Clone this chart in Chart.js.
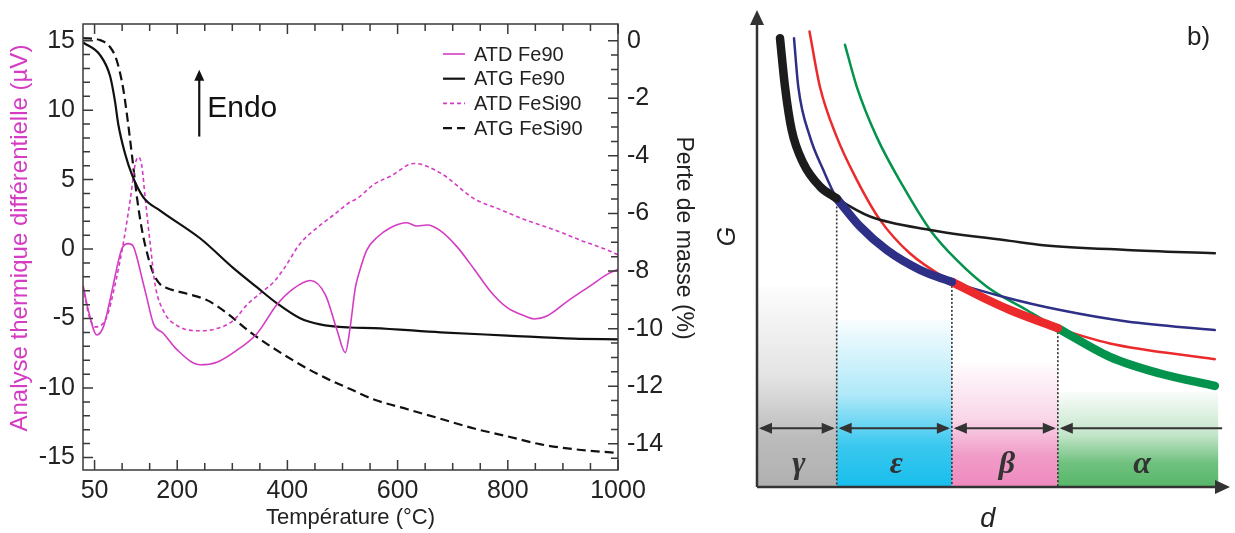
<!DOCTYPE html>
<html lang="fr">
<head>
<meta charset="utf-8">
<title>ATD / ATG et stabilité des phases</title>
<script src="https://cdn.jsdelivr.net/npm/chart.js@4.4.1/dist/chart.umd.min.js"></script>
<style>
  body { margin: 0; background: #fff; }
  #wrap { position: relative; width: 1235px; height: 533px; overflow: hidden; }
  canvas { position: absolute; top: 0; }
  #atd { left: 0; }
  #phases { left: 700px; }
</style>
</head>
<body>
<div id="wrap">
  <canvas id="atd" width="705" height="533"></canvas>
  <canvas id="phases" width="535" height="533"></canvas>
</div>
<script>
// --- LEFT PANEL DATA: ATD (µV, left axis) and ATG (% mass loss, right axis) vs temperature (°C) ---
const atdFe90T = [29, 39, 54, 66, 75, 84, 93, 100, 111, 120, 127, 133, 145, 157, 175, 199, 242, 272, 302, 345,
  381, 411, 442, 469, 490, 505, 514, 523, 532, 544, 563, 587, 617, 635, 654, 678, 708, 739, 769, 799,
  830, 848, 872, 908, 951, 981, 1000];
const atdFe90 = [-2.6, -4.45, -6.18, -5.6, -4.22, -2.56, -0.9, 0.07, 0.39, 0.21, -0.62, -1.59, -3.53, -5.38, -6.07, -7.22, -8.33, -8.14, -7.45, -6.07,
  -3.99, -2.84, -2.26, -3.3, -5.83, -7.45, -5.6, -2.84, -1.45, -0.07, 0.85, 1.54, 1.89, 1.66, 1.73, 1.31, 0.16, -1.45, -3.07, -4.22,
  -4.8, -5.03, -4.8, -3.76, -2.61, -1.8, -1.45];

const atgFe90T = [29, 60, 78, 87, 93, 105, 118, 139, 169, 242, 302, 345, 381, 423, 459, 514, 556, 678, 799, 920, 1000];
const atgFe90 = [-0.06, -0.5, -1.22, -2.1, -2.9, -3.9, -4.66, -5.45, -5.9, -6.87, -7.9, -8.57, -9.12, -9.64, -9.85, -9.96, -9.98, -10.13, -10.24, -10.35, -10.37];

const atdFeSi90T = [29, 40, 51, 72, 87, 102, 115, 124, 130, 136, 142, 151, 160, 175, 199, 242, 272, 302, 327, 351,
  375, 393, 423, 454, 484, 514, 526, 557, 587, 630, 678, 739, 781, 830, 890, 933, 981, 1000];
const atdFeSi90 = [-2.7, -4.8, -5.6, -4.9, -2.6, 0.39, 3.62, 6.16, 6.62, 5.93, 3.62, 0.39, -2.6, -4.45, -5.49, -5.88, -5.72, -5.14, -3.99, -3.18,
  -2.37, -1.45, 0.39, 1.54, 2.46, 3.39, 3.62, 4.66, 5.24, 6.16, 5.47, 3.62, 2.93, 2.13, 1.31, 0.62, -0.07, -0.42];

const atgFeSi90T = [29, 60, 78, 90, 102, 111, 118, 127, 136, 148, 157, 169, 181, 218, 254, 290, 333, 393, 454, 514,
  557, 618, 678, 739, 799, 860, 921, 1000];
const atgFeSi90 = [0.09, 0.02, -0.22, -0.67, -1.67, -2.9, -4.0, -5.45, -6.57, -7.57, -8.1, -8.46, -8.59, -8.79, -9.01, -9.46, -10.13, -10.9, -11.57, -12.1,
  -12.46, -12.8, -13.13, -13.47, -13.74, -14.02, -14.19, -14.32];

// Tick labels shown on each axis
const tempTicks = [50, 200, 400, 600, 800, 1000];
const atdTicks = [-15, -10, -5, 0, 5, 10, 15];
const atgTicks = [0, -2, -4, -6, -8, -10, -12, -14];

// --- RIGHT PANEL DATA: free energy G vs particle size d (arbitrary units) ---
const phaseNames = ['γ', 'ε', 'β', 'α'];
const phaseBounds = [0, 16.85, 41.2, 63.6, 97.5];   // d where the stable phase changes
const phaseFadeTop = [42, 35, 26, 20];              // G level where each shaded band fades out

const gammaD = [4.86, 5.92, 7.34, 9.79, 13.3, 16.85, 23.9, 36.6, 53.5, 60.5, 78.2, 96.8];
const gammaG = [94.1, 83.9, 74.8, 67.9, 63.0, 60.5, 56.7, 53.9, 51.6, 50.7, 49.7, 49.0];
const epsD = [7.82, 8.73, 11.2, 14.0, 16.85, 21.8, 27.4, 34.5, 41.2, 52.0, 64.1, 78.2, 96.8];
const epsG = [94.1, 83.9, 73.4, 66.5, 60.5, 54.6, 49.7, 45.5, 43.0, 39.9, 37.1, 34.7, 32.9];
const betaD = [11.1, 13.3, 16.85, 21.1, 26.0, 32.3, 41.2, 48.6, 53.5, 63.6, 74.6, 96.8];
const betaG = [95.5, 83.9, 73.4, 64.4, 56.0, 49.0, 43.0, 39.3, 37.1, 33.3, 30.1, 26.8];
const alphaD = [18.6, 21.1, 25.3, 30.9, 36.6, 42.2, 48.6, 57.0, 63.6, 74.6, 85.2, 96.8];
const alphaG = [92.7, 83.9, 73.4, 63.0, 53.9, 47.6, 42.0, 37.1, 33.3, 27.3, 23.8, 21.2];


// --- SHARED HELPERS ---
const FONT = '"Liberation Sans", Arial, sans-serif';
const SERIF = '"Liberation Serif", "DejaVu Serif", serif';
const INK = '#222';
const MAGENTA = '#d43cc4';

const pairs = (xs, ys) => xs.map((x, i) => ({ x: x, y: ys[i] }));
const fixedTicks = values => scale => { scale.ticks = values.map(v => ({ value: v })); };

function arrowHead(ctx, x, y, dx, dy, len, half) {
  // filled triangle, tip at (x, y), pointing along (dx, dy)
  ctx.beginPath();
  ctx.moveTo(x, y);
  ctx.lineTo(x - dx * len - dy * half, y - dy * len + dx * half);
  ctx.lineTo(x - dx * len + dy * half, y - dy * len - dx * half);
  ctx.closePath();
  ctx.fill();
}

function curve(label, xs, ys, color, dash, width, axis) {
  return {
    label: label,
    data: pairs(xs, ys),
    borderColor: color,
    backgroundColor: color,
    borderDash: dash,
    borderWidth: width,
    yAxisID: axis,
    pointRadius: 0,
    fill: false,
    cubicInterpolationMode: 'monotone'
  };
}


// --- LEFT PANEL PLUGINS ---
// Box frame plus inward tick marks on all four sides
const frameTicks = {
  id: 'frameTicks',
  afterDatasetsDraw(chart) {
    const { ctx, chartArea: a, scales: { x, y, y2 } } = chart;
    ctx.save();
    ctx.strokeStyle = '#3a3a3a';
    ctx.lineWidth = 1.5;
    ctx.beginPath();
    for (let t = 50; t <= 1000; t += 50) {
      const px = x.getPixelForValue(t);
      const len = tempTicks.includes(t) ? 10 : 7;
      ctx.moveTo(px, a.bottom); ctx.lineTo(px, a.bottom - len);
      ctx.moveTo(px, a.top); ctx.lineTo(px, a.top + len);
    }
    for (let v = -15; v <= 15; v += 1) {
      const py = y.getPixelForValue(v);
      const len = atdTicks.includes(v) ? 10 : 7;
      ctx.moveTo(a.left, py); ctx.lineTo(a.left + len, py);
    }
    for (let v = -14.5; v <= 0; v += 0.5) {
      const py = y2.getPixelForValue(v);
      const len = atgTicks.includes(v) ? 10 : 7;
      ctx.moveTo(a.right, py); ctx.lineTo(a.right - len, py);
    }
    ctx.stroke();
    ctx.strokeRect(a.left, a.top, a.right - a.left, a.bottom - a.top);
    ctx.restore();
  }
};

// Vertical axis titles (drawn here so they sit a little above the axis middle, as in the source)
const sideTitles = {
  id: 'sideTitles',
  afterDraw(chart) {
    const { ctx, chartArea: a } = chart;
    const midY = a.top + (a.bottom - a.top) * 0.48;
    ctx.save();
    ctx.textAlign = 'center';
    ctx.textBaseline = 'middle';
    ctx.font = '24px ' + FONT;
    ctx.fillStyle = MAGENTA;
    ctx.translate(20, midY);
    ctx.rotate(-Math.PI / 2);
    ctx.fillText('Analyse thermique différentielle (µV)', 0, 0);
    ctx.restore();
    ctx.save();
    ctx.textAlign = 'center';
    ctx.textBaseline = 'middle';
    ctx.font = '23px ' + FONT;
    ctx.fillStyle = INK;
    ctx.translate(a.right + 65, midY);
    ctx.rotate(Math.PI / 2);
    ctx.fillText('Perte de masse (%)', 0, 0);
    ctx.restore();
  }
};

// Legend drawn inside the plot, top right
const insideLegend = {
  id: 'insideLegend',
  afterDatasetsDraw(chart) {
    const { ctx, chartArea: a } = chart;
    const lx = a.right - 175, ly = a.top + 30;
    ctx.save();
    ctx.font = '20px ' + FONT;
    ctx.textBaseline = 'middle';
    chart.data.datasets.forEach((ds, i) => {
      const yy = ly + i * 24.7;
      ctx.strokeStyle = ds.borderColor;
      ctx.lineWidth = ds.borderWidth;
      ctx.setLineDash(ds.borderDash || []);
      ctx.beginPath();
      ctx.moveTo(lx, yy); ctx.lineTo(lx + 22, yy);
      ctx.stroke();
      ctx.fillStyle = INK;
      ctx.fillText(ds.label, lx + 31, yy + 1);
    });
    ctx.restore();
  }
};

// "Endo" arrow annotation
const endoNote = {
  id: 'endoNote',
  afterDatasetsDraw(chart) {
    const { ctx, scales: { x, y } } = chart;
    const ax = x.getPixelForValue(240);
    const yLow = y.getPixelForValue(8.1), yTip = y.getPixelForValue(12.9);
    ctx.save();
    ctx.strokeStyle = '#111';
    ctx.fillStyle = '#111';
    ctx.lineWidth = 2.2;
    ctx.beginPath();
    ctx.moveTo(ax, yLow); ctx.lineTo(ax, yTip + 8);
    ctx.stroke();
    arrowHead(ctx, ax, yTip, 0, -1, 11, 5);
    ctx.font = '30px ' + FONT;
    ctx.textBaseline = 'alphabetic';
    ctx.fillText('Endo', x.getPixelForValue(254.5), y.getPixelForValue(9.5));
    ctx.restore();
  }
};

new Chart(document.getElementById('atd'), {
  type: 'line',
  data: {
    datasets: [
      curve('ATD Fe90', atdFe90T, atdFe90, MAGENTA, [], 1.6, 'y'),
      curve('ATG Fe90', atgFe90T, atgFe90, '#111', [], 2.2, 'y2'),
      curve('ATD FeSi90', atdFeSi90T, atdFeSi90, MAGENTA, [4, 3], 1.6, 'y'),
      curve('ATG FeSi90', atgFeSi90T, atgFeSi90, '#111', [9, 5], 2.2, 'y2')
    ]
  },
  options: {
    responsive: false,
    animation: false,
    layout: { padding: { top: 6, left: 0, right: 0, bottom: 0 } },
    plugins: { legend: { display: false }, tooltip: { enabled: false } },
    scales: {
      x: {
        type: 'linear', min: 29, max: 1000,
        afterBuildTicks: fixedTicks(tempTicks),
        afterFit: s => { s.height = 63; },
        grid: { display: false, drawTicks: false },
        border: { display: false },
        ticks: { autoSkip: false, maxRotation: 0, padding: 6, color: INK, font: { family: FONT, size: 25 }, callback: v => String(v) },
        title: { display: true, text: 'Température (°C)', color: INK, font: { family: FONT, size: 22 }, padding: { top: 0, bottom: 2 } }
      },
      y: {
        position: 'left', min: -15.9, max: 16.2,
        afterBuildTicks: fixedTicks(atdTicks),
        afterFit: s => { s.width = 83; },
        grid: { display: false, drawTicks: false },
        border: { display: false },
        ticks: { padding: 8, color: INK, font: { family: FONT, size: 25 }, callback: v => String(v) }
      },
      y2: {
        position: 'right', min: -14.91, max: 0.58,
        afterBuildTicks: fixedTicks(atgTicks),
        afterFit: s => { s.width = 87; },
        grid: { display: false, drawTicks: false },
        border: { display: false },
        ticks: { padding: 9, color: INK, font: { family: FONT, size: 25 }, callback: v => String(v) }
      }
    }
  },
  plugins: [frameTicks, insideLegend, endoNote, sideTitles]
});


// --- RIGHT PANEL: G(d) curves with stability domains ---
const phaseCurves = [
  { d: gammaD, g: gammaG, color: '#1c1c1c' },
  { d: epsD, g: epsG, color: '#2e2f86' },
  { d: betaD, g: betaG, color: '#ec2a2c' },
  { d: alphaD, g: alphaG, color: '#04934c' }
];
const bandColors = ['176,176,176', '24,190,236', '238,138,190', '86,182,104'];

// each curve is thin everywhere, and thick over the d range where it is the lowest
const thinSets = phaseCurves.map(c => ({
  data: pairs(c.d, c.g), borderColor: c.color, borderWidth: 2.5, order: 1,
  pointRadius: 0, fill: false, cubicInterpolationMode: 'monotone', borderCapStyle: 'round'
}));
const thickSets = phaseCurves.map((c, i) => ({
  data: pairs(c.d, c.g).filter(p => p.x >= phaseBounds[i] && p.x <= phaseBounds[i + 1]),
  borderColor: c.color, borderWidth: 8.5, order: 0,
  pointRadius: 0, fill: false, cubicInterpolationMode: 'monotone', borderCapStyle: 'round'
}));

const phaseBands = {
  id: 'phaseBands',
  beforeDatasetsDraw(chart) {
    const { ctx, scales: { x, y } } = chart;
    const yBot = y.getPixelForValue(0);
    ctx.save();
    phaseNames.forEach((name, i) => {
      const x0 = x.getPixelForValue(phaseBounds[i]);
      const x1 = x.getPixelForValue(phaseBounds[i + 1]);
      const yTop = y.getPixelForValue(phaseFadeTop[i]);
      const grad = ctx.createLinearGradient(0, yTop, 0, yBot);
      grad.addColorStop(0, 'rgba(' + bandColors[i] + ',0.03)');
      grad.addColorStop(0.45, 'rgba(' + bandColors[i] + ',0.35)');
      grad.addColorStop(0.75, 'rgba(' + bandColors[i] + ',0.85)');
      grad.addColorStop(1, 'rgba(' + bandColors[i] + ',1)');
      ctx.fillStyle = grad;
      ctx.fillRect(x0, yTop, x1 - x0, yBot - yTop);
    });
    // dotted drop lines from each crossing point down to the d axis
    ctx.strokeStyle = '#333';
    ctx.lineWidth = 1.6;
    ctx.setLineDash([2, 2]);
    for (let i = 1; i < phaseNames.length; i++) {
      const c = phaseCurves[i];
      const gCross = c.g[c.d.indexOf(phaseBounds[i])];
      const px = x.getPixelForValue(phaseBounds[i]);
      ctx.beginPath();
      ctx.moveTo(px, y.getPixelForValue(gCross));
      ctx.lineTo(px, yBot);
      ctx.stroke();
    }
    ctx.restore();
  },
  afterDraw(chart) {
    const { ctx, chartArea: a, scales: { x, y } } = chart;
    ctx.save();
    ctx.strokeStyle = '#333';
    ctx.fillStyle = '#333';
    // domain arrows and phase letters
    const yA = y.getPixelForValue(12.3);
    ctx.lineWidth = 2;
    phaseNames.forEach((name, i) => {
      const last = i === phaseNames.length - 1;
      const x0 = x.getPixelForValue(phaseBounds[i]);
      const x1 = x.getPixelForValue(phaseBounds[i + 1]) + (last ? 4 : 0);
      ctx.beginPath();
      ctx.moveTo(x0 + 4, yA); ctx.lineTo(x1 - (last ? 0 : 4), yA);
      ctx.stroke();
      arrowHead(ctx, x0 + 2, yA, -1, 0, 13, 5.5);
      if (!last) arrowHead(ctx, x1 - 2, yA, 1, 0, 13, 5.5);
      ctx.font = 'bold italic 32px ' + SERIF;
      ctx.textAlign = 'center';
      ctx.textBaseline = 'alphabetic';
      ctx.fillText(name, (x0 + x1) / 2 + 2, y.getPixelForValue(3));
    });
    // axes with arrow heads
    ctx.lineWidth = 2.5;
    ctx.beginPath();
    ctx.moveTo(a.left, a.bottom); ctx.lineTo(a.left, a.top + 12);
    ctx.moveTo(a.left, a.bottom); ctx.lineTo(a.right - 12, a.bottom);
    ctx.stroke();
    arrowHead(ctx, a.left, a.top, 0, -1, 15, 7);
    arrowHead(ctx, a.right, a.bottom, 1, 0, 15, 7);
    // axis names and panel tag
    ctx.fillStyle = '#222';
    ctx.font = 'italic 27px ' + FONT;
    ctx.textAlign = 'center';
    ctx.fillText('d', x.getPixelForValue(48.8), a.bottom + 40);
    ctx.font = '26px ' + FONT;
    ctx.textAlign = 'left';
    ctx.fillText('b)', a.left + 430, a.top + 35);
    ctx.save();
    ctx.translate(a.left - 29, y.getPixelForValue(52.5));
    ctx.rotate(-Math.PI / 2);
    ctx.font = 'italic 25px ' + FONT;
    ctx.textAlign = 'center';
    ctx.textBaseline = 'middle';
    ctx.fillText('G', 0, 0);
    ctx.restore();
    ctx.restore();
  }
};

new Chart(document.getElementById('phases'), {
  type: 'line',
  data: { datasets: thickSets.concat(thinSets) },
  options: {
    responsive: false,
    animation: false,
    layout: { padding: { left: 57, right: 5, top: 10, bottom: 46 } },
    plugins: { legend: { display: false }, tooltip: { enabled: false } },
    scales: {
      x: { type: 'linear', min: 0, max: 100, display: false },
      y: { min: 0, max: 100, display: false }
    }
  },
  plugins: [phaseBands]
});
</script>
</body>
</html>
